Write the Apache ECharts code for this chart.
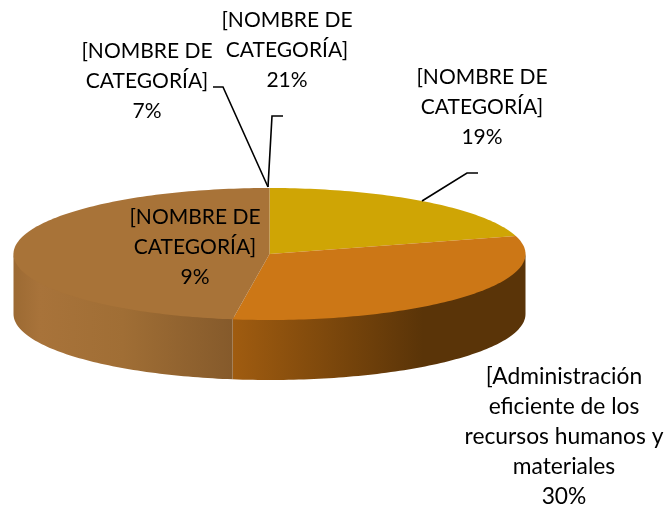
<!DOCTYPE html>
<html>
<head>
<meta charset="utf-8">
<style>
  html, body { margin: 0; padding: 0; background: #fff; }
  #chart { width: 665px; height: 506px; }
</style>
<script src="https://cdn.jsdelivr.net/npm/echarts@6/dist/echarts.min.js"></script>
</head>
<body>
<div id="chart"></div>
<script>
// visible slices, clockwise from 12 o'clock (share of the disc as drawn)
const sliceNames = ['Amarillo', 'Administración', 'Resto']
const sliceValues = [20.6, 31.7, 47.7]

const labelNames = [
  '[NOMBRE DE\nCATEGORÍA]',
  '[NOMBRE DE\nCATEGORÍA]',
  '[NOMBRE DE\nCATEGORÍA]',
  '[NOMBRE DE\nCATEGORÍA]',
  '[Administración\neficiente de los\nrecursos humanos y\nmateriales',
]
const labelPercents = ['21%', '7%', '19%', '9%', '30%']

const topColors = ['#CFA505', '#CC7716', '#A87338']
const sideStops = [
  null,
  [[0, '#A05C10'], [0.65, '#5A3408'], [1, '#5A3408']],
  [[0, '#9C6A33'], [0.12, '#A8733A'], [0.5, '#A06E35'], [1, '#855A2B']],
]

const cx = 269.5, cy = 254, rx = 256, ry = 66, depth = 60
const total = sliceValues.reduce((a, b) => a + b, 0)

const pt = (t, dy = 0) => [cx + rx * Math.sin(t), cy - ry * Math.cos(t) + dy]

const arc = (a, b, dy = 0) => {
  const n = Math.max(2, Math.ceil((b - a) / 0.02))
  const out = []
  for (let i = 0; i <= n; i++) out.push(pt(a + (b - a) * i / n, dy))
  return out
}

const renderSlice = (params, api) => {
  const i = params.dataIndex
  let before = 0
  for (let k = 0; k < i; k++) before += sliceValues[k]
  const a = before / total * Math.PI * 2
  const b = (before + api.value(0)) / total * Math.PI * 2
  const children = []

  // wall only where the rim faces the viewer, tucked 2px under the top to hide the seam
  const sa = Math.max(a, Math.PI / 2), sb = Math.min(b, Math.PI * 1.5)
  if (sb > sa && sideStops[i]) {
    const colorStops = sideStops[i].map(s => ({ offset: s[0], color: s[1] }))
    children.push({
      type: 'polygon',
      shape: { points: arc(sa, sb, -2).concat(arc(sa, sb, depth).reverse()) },
      style: { fill: new echarts.graphic.LinearGradient(0, 0, 1, 0, colorStops) },
      z2: 1,
    })
  }

  children.push({
    type: 'polygon',
    shape: { points: [[cx, cy]].concat(arc(a, b)) },
    style: { fill: topColors[i] },
    z2: 2,
  })
  return { type: 'group', children }
}

const textEl = (name, percent, x, y, size = 21) => ({
  type: 'text',
  x,
  y,
  z: 10,
  silent: true,
  style: {
    text: name + '\n' + percent,
    font: size + 'px Lato',
    lineHeight: 30,
    fill: '#000',
    align: 'center',
    verticalAlign: 'top',
  },
})

const leader = points => ({
  type: 'polyline',
  z: 10,
  silent: true,
  shape: { points },
  style: { stroke: '#000', lineWidth: 1.6, fill: null },
})

const chart = echarts.init(document.getElementById('chart'), null, { renderer: 'canvas' })

chart.setOption({
  animation: false,
  backgroundColor: '#fff',
  series: [
    {
      type: 'custom',
      coordinateSystem: 'none',
      renderItem: renderSlice,
      data: sliceValues.map((v, i) => ({ name: sliceNames[i], value: [v] })),
    },
  ],
  graphic: [
    leader([[213, 87], [223, 87], [268, 187]]),
    leader([[283, 116], [272, 116], [268, 187]]),
    leader([[478, 173], [467, 173], [422, 201]]),
    textEl(labelNames[0], labelPercents[0], 287, 5),
    textEl(labelNames[1], labelPercents[1], 147, 36),
    textEl(labelNames[2], labelPercents[2], 482, 62),
    textEl(labelNames[3], labelPercents[3], 195, 202),
    textEl(labelNames[4], labelPercents[4], 564, 362, 22.8),
  ],
})
</script>
</body>
</html>
